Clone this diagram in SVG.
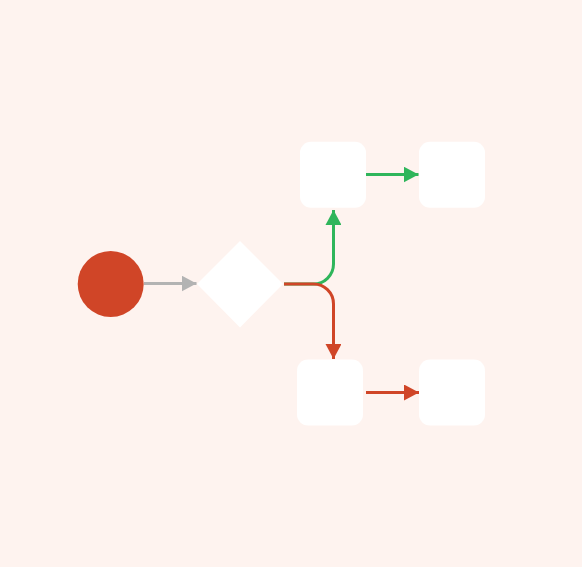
<svg xmlns="http://www.w3.org/2000/svg" width="582" height="567" viewBox="0 0 582 567">
  <style>
    .box { fill: #ffffff; }
    .c-gray { fill: none; stroke: #b3b3b3; stroke-width: 3; }
    .c-green { fill: none; stroke: #2fb55b; stroke-width: 3; }
    .c-red { fill: none; stroke: #d04527; stroke-width: 3; }
  </style>
  <defs>
    <marker id="ah-gray" markerUnits="userSpaceOnUse" markerWidth="15" markerHeight="16" refX="15" refY="8" orient="auto">
      <path d="M0,0 L15,8 L0,16 Z" fill="#b3b3b3"/>
    </marker>
    <marker id="ah-green" markerUnits="userSpaceOnUse" markerWidth="15" markerHeight="16" refX="15" refY="8" orient="auto">
      <path d="M0,0 L15,8 L0,16 Z" fill="#2fb55b"/>
    </marker>
    <marker id="ah-red" markerUnits="userSpaceOnUse" markerWidth="15" markerHeight="16" refX="15" refY="8" orient="auto">
      <path d="M0,0 L15,8 L0,16 Z" fill="#d04527"/>
    </marker>
  </defs>
  <rect x="0" y="0" width="582" height="567" fill="#fef3ef"/>
  <g id="connectors">
    <path class="c-gray" d="M144,283.5 L196.5,283.5" marker-end="url(#ah-gray)"/>
    <path class="c-green" d="M284,284 L313,284 A20,20 0 0 0 333.5,264 L333.5,210" marker-end="url(#ah-green)"/>
    <path class="c-green" d="M366,174.5 L418.5,174.5" marker-end="url(#ah-green)"/>
    <path class="c-red" d="M284,284 L313,284 A20,20 0 0 1 333.5,304 L333.5,359" marker-end="url(#ah-red)"/>
    <path class="c-red" d="M366,392.5 L419,392.5" marker-end="url(#ah-red)"/>
  </g>
  <g id="start"><circle cx="110.7" cy="284" r="33" fill="#d04527"/></g>
  <g id="decision"><path class="box" d="M240,241 L283,284 L240,327.5 L197,284 Z"/></g>
  <g id="task-top-1"><rect class="box" x="300" y="141.7" width="66" height="66" rx="11"/></g>
  <g id="task-top-2"><rect class="box" x="419" y="141.7" width="66" height="66" rx="11"/></g>
  <g id="task-bottom-1"><rect class="box" x="297" y="359.5" width="66" height="66" rx="11"/></g>
  <g id="task-bottom-2"><rect class="box" x="419" y="359.5" width="66" height="66" rx="11"/></g>
</svg>
